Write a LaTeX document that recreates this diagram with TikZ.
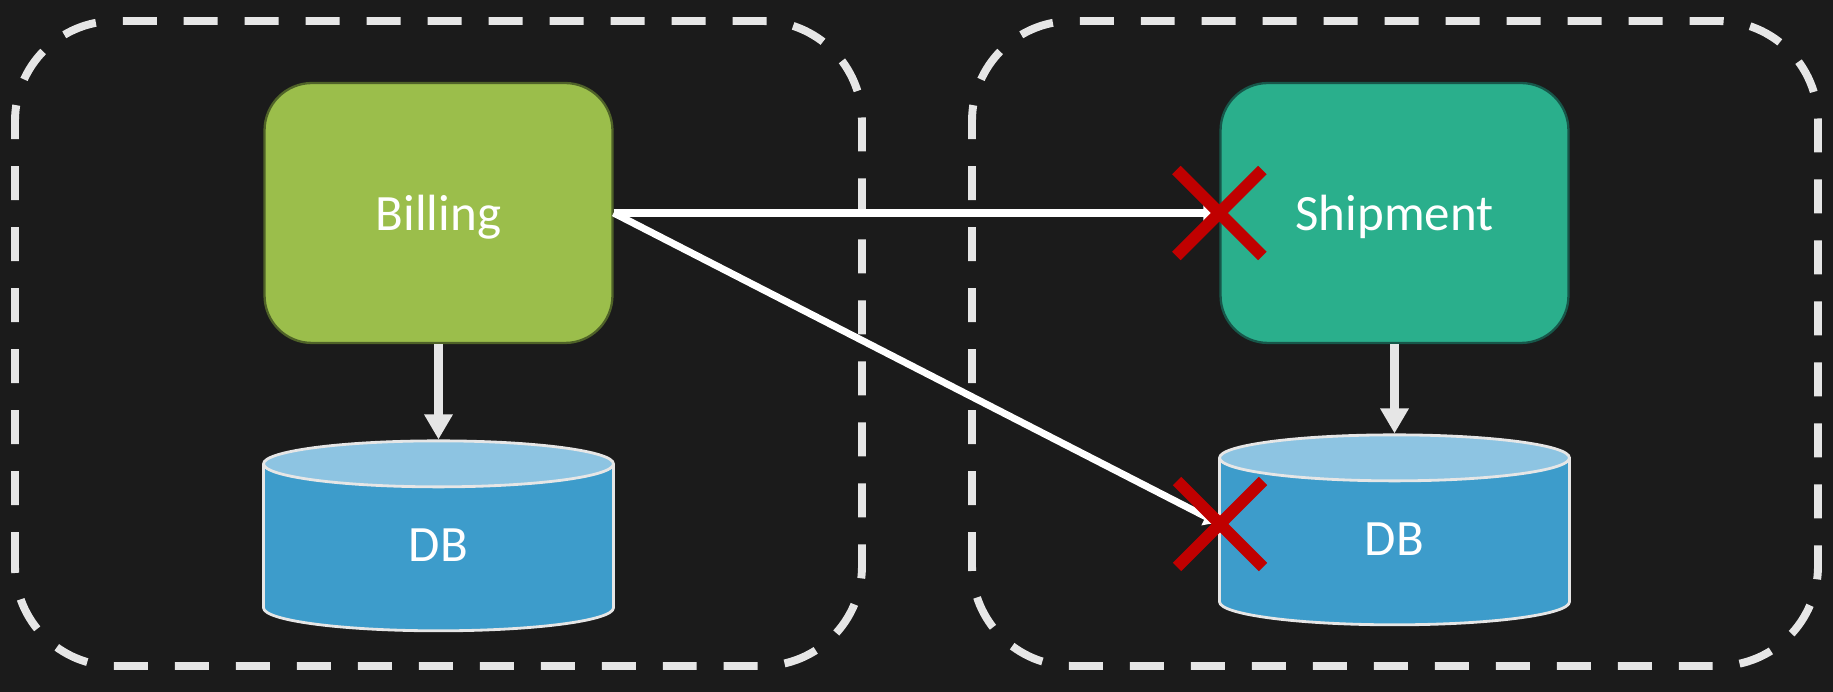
\documentclass[tikz,border=0pt]{standalone}
\usepackage{fontspec}
\setmainfont{Carlito}
\usetikzlibrary{arrows.meta}
\usetikzlibrary{positioning}
\usetikzlibrary{shapes.geometric}
\definecolor{bgdark}{HTML}{1B1B1B}
\definecolor{linegray}{HTML}{E6E6E6}
\definecolor{billgreen}{HTML}{9BBE4B}
\definecolor{billedge}{HTML}{4F6228}
\definecolor{shipteal}{HTML}{2AAF8C}
\definecolor{shipedge}{HTML}{17574A}
\definecolor{dbblue}{HTML}{3D9CCB}
\definecolor{dblight}{HTML}{8DC4E2}
\definecolor{crossred}{HTML}{C00000}
\begin{document}
\begin{tikzpicture}[line join=round, x=0.02cm, y=0.02cm,
  service/.style={draw, line width=1.3pt, rounded corners=0.95cm, minimum width=6.96cm, minimum height=5.2cm, text depth=0pt, text=white, font=\fontsize{29}{34}\selectfont},
  store/.style={cylinder, shape border rotate=90, aspect=0.65, draw=linegray, line width=1.6pt, cylinder uses custom fill, cylinder body fill=dbblue, cylinder end fill=dblight, minimum width=7.0cm, minimum height=3.8cm, text depth=0.24cm, text=white, font=\fontsize{29}{34}\selectfont},
  boundary/.style={draw=linegray, line width=4.5pt, dash pattern=on 0.68cm off 0.54cm, rounded corners=2cm},
  call/.style={draw=white, line width=4pt, -{Latex[length=0.32cm, width=0.42cm]}},
  write/.style={draw=linegray, line width=5pt, -{Triangle[length=0.5cm, width=0.54cm]}},
  cross/.style={draw=crossred, line width=6.8pt}]
\fill[bgdark] (0,0) rectangle (1833,692);
% bounded contexts
\draw[boundary] (15,26) rectangle (862,671);
\draw[boundary] (972,26) rectangle (1818,671);
% services and their stores
\node[service, fill=billgreen, draw=billedge] (billing) at (438.5,479) {Billing};
\node[service, fill=shipteal, draw=shipedge] (shipment) at (1394.5,479) {Shipment};
\node[store] (dbA) at (438.5,141) {DB};
\node[store] (dbB) at (1394.5,147) {DB};
\coordinate (xA) at (shipment.west);
\coordinate (xB) at (1220,168);
\draw[write] (billing.south) -- (dbA.top);
\draw[write] (shipment.south) -- (dbB.top);
\draw[call] (billing.east) -- (xA);
\draw[call] (billing.east) -- (xB);
% forbidden calls
\draw[cross] ([shift={(-43,-43)}]xA) -- ([shift={(43,43)}]xA);
\draw[cross] ([shift={(-43,43)}]xA) -- ([shift={(43,-43)}]xA);
\draw[cross] ([shift={(-43,-43)}]xB) -- ([shift={(43,43)}]xB);
\draw[cross] ([shift={(-43,43)}]xB) -- ([shift={(43,-43)}]xB);
\end{tikzpicture}
\end{document}
